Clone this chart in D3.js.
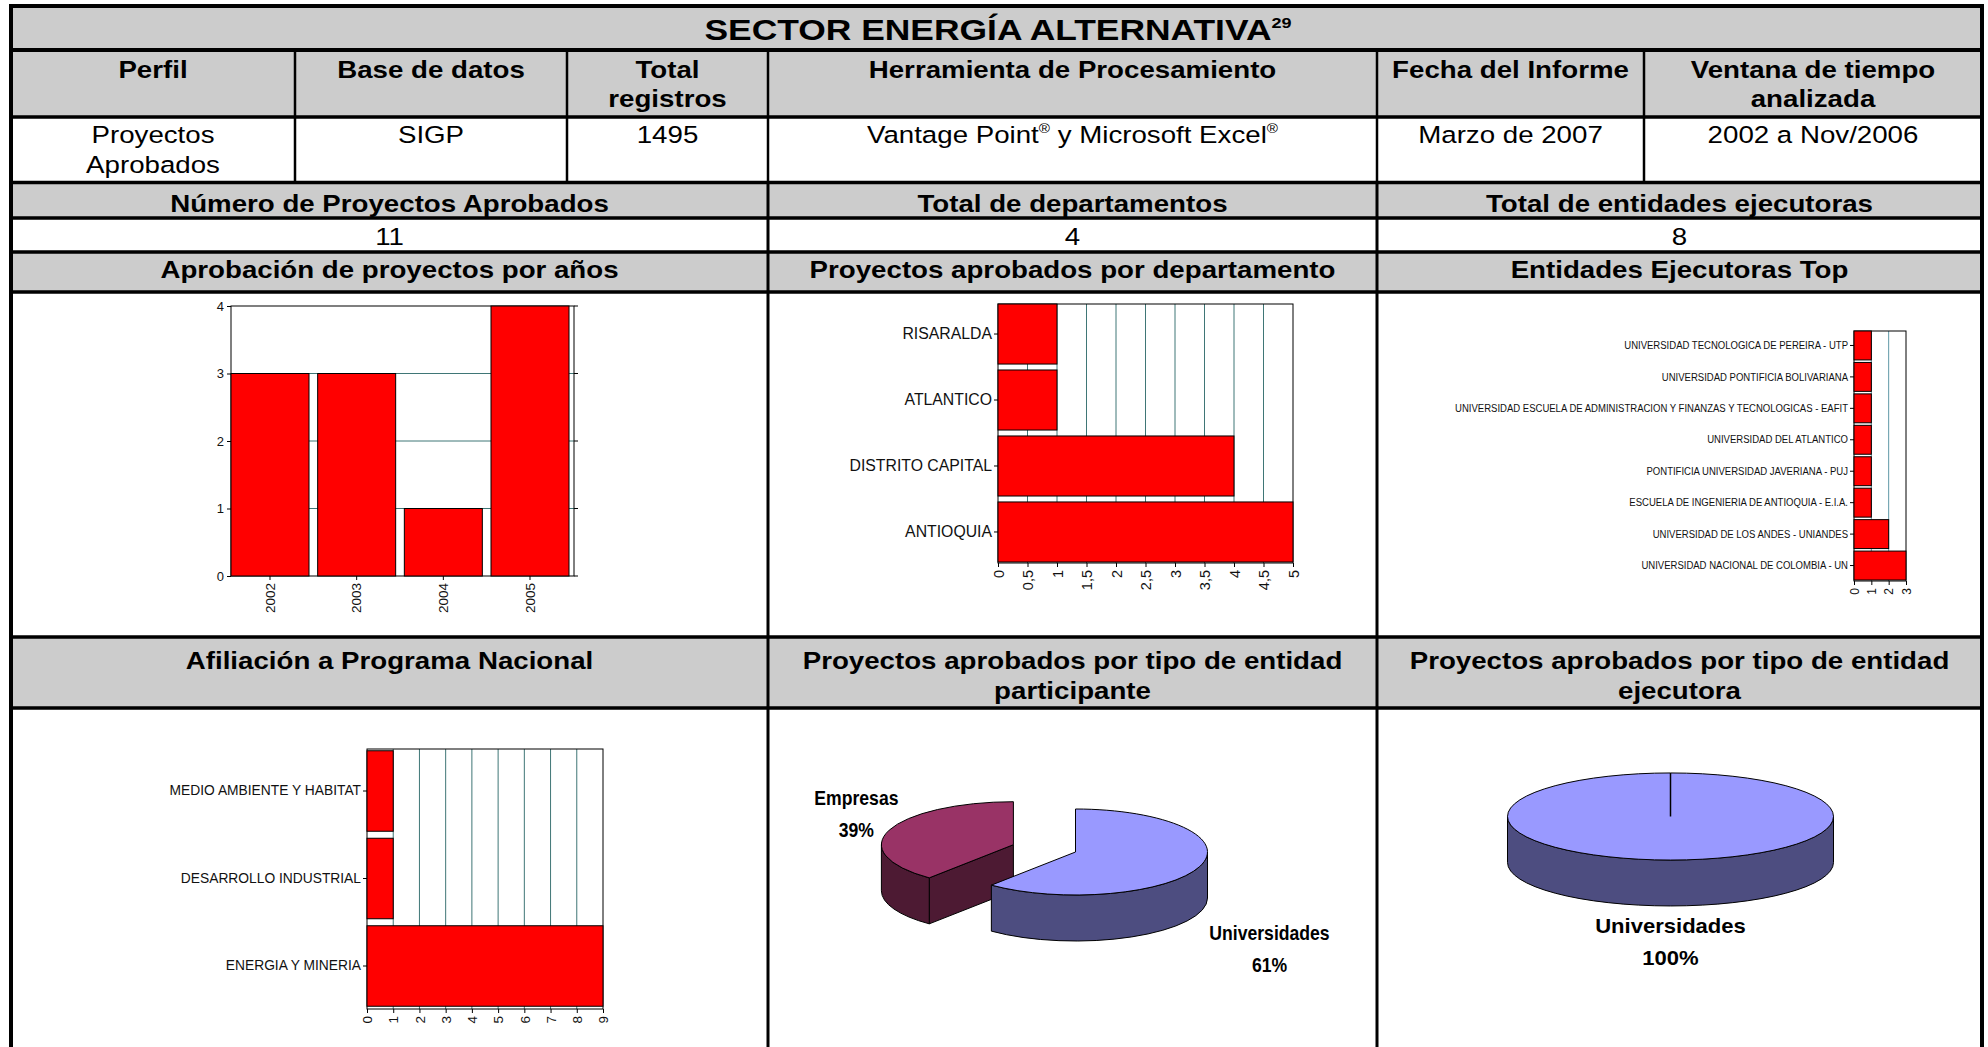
<!DOCTYPE html>
<html>
<head>
<meta charset="utf-8">
<script src="https://cdn.jsdelivr.net/npm/d3@7.9.0/dist/d3.min.js"></script>
<style>
  body { margin: 0; background: #fff; }
  svg { display: block; font-family: "Liberation Sans", Arial, sans-serif; }
</style>
</head>
<body>
<svg id="chart" width="1988" height="1047"></svg>
<script>
// ---- data ----
const titulo = 'SECTOR ENERGÍA ALTERNATIVA';
const tituloNota = '29';
const encabezados = [['Perfil'], ['Base de datos'], ['Total', 'registros'], ['Herramienta de Procesamiento'], ['Fecha del Informe'], ['Ventana de tiempo', 'analizada']];
const fila = [['Proyectos', 'Aprobados'], ['SIGP'], ['1495'], ['Vantage Point® y Microsoft Excel®'], ['Marzo de 2007'], ['2002 a Nov/2006']];
const resumenTitulos = ['Número de Proyectos Aprobados', 'Total de departamentos', 'Total de entidades ejecutoras'];
const resumenValores = ['11', '4', '8'];
const graficosTitulos1 = [['Aprobación de proyectos por años'], ['Proyectos aprobados por departamento'], ['Entidades Ejecutoras Top']];
const graficosTitulos2 = [['Afiliación a Programa Nacional'], ['Proyectos aprobados por tipo de entidad', 'participante'], ['Proyectos aprobados por tipo de entidad', 'ejecutora']];

const years = ['2002', '2003', '2004', '2005'];
const yearCounts = [3, 3, 1, 4];

const departamentos = ['RISARALDA', 'ATLANTICO', 'DISTRITO CAPITAL', 'ANTIOQUIA'];
const deptCounts = [1, 1, 4, 5];
const deptTicks = [0, 0.5, 1, 1.5, 2, 2.5, 3, 3.5, 4, 4.5, 5];

const entidades = [
  'UNIVERSIDAD TECNOLOGICA DE PEREIRA - UTP',
  'UNIVERSIDAD PONTIFICIA BOLIVARIANA',
  'UNIVERSIDAD ESCUELA DE ADMINISTRACION Y FINANZAS Y TECNOLOGICAS - EAFIT',
  'UNIVERSIDAD DEL ATLANTICO',
  'PONTIFICIA UNIVERSIDAD JAVERIANA - PUJ',
  'ESCUELA DE INGENIERIA DE ANTIOQUIA - E.I.A.',
  'UNIVERSIDAD DE LOS ANDES - UNIANDES',
  'UNIVERSIDAD NACIONAL DE COLOMBIA - UN'
];
const entidadCounts = [1, 1, 1, 1, 1, 1, 2, 3];

const programas = ['MEDIO AMBIENTE Y HABITAT', 'DESARROLLO INDUSTRIAL', 'ENERGIA Y MINERIA'];
const programaCounts = [1, 1, 9];

const participanteTipos = ['Universidades', 'Empresas'];
const participantePct = [61, 39];
const ejecutoraTipos = ['Universidades'];
const ejecutoraPct = [100];

// ---- layout ----
const svg = d3.select('#chart');
const FONT = '"Liberation Sans", Arial, sans-serif';
const GRAY = '#cccccc';
const GRID = '#3f7676';
const RED = '#ff0000';

const L = 11, R = 1982;
const cols6 = [L, 295, 567, 768, 1377, 1644, R];
const cols3 = [L, 768, 1377, R];
const rowY = [6, 50, 117, 182.5, 218, 252, 292, 637, 708];
const mid = (a, b) => (a + b) / 2;

// gray header bands
[[0, 1], [1, 2], [3, 4], [5, 6], [7, 8]].forEach(([a, b]) => {
  svg.append('rect').attr('x', L).attr('y', rowY[a]).attr('width', R - L).attr('height', rowY[b] - rowY[a]).attr('fill', GRAY);
});

function tableText(x, y, str, size, bold, sx) {
  const t = svg.append('text')
    .attr('transform', `translate(${x},${y}) scale(${sx},1)`)
    .attr('text-anchor', 'middle')
    .style('font-size', size + 'px')
    .style('font-weight', bold ? 'bold' : 'normal')
    .attr('fill', '#000');
  let raised = false;
  str.split(/(®)/).filter(p => p).forEach(p => {
    const ts = t.append('tspan').text(p);
    if (p === '®') {
      ts.attr('dy', -size * 0.4).style('font-size', (size * 0.55) + 'px');
      raised = true;
    } else if (raised) {
      ts.attr('dy', size * 0.4);
      raised = false;
    }
  });
  return t;
}

// title
const tt = tableText(998, 40, titulo, 29.5, true, 1.2);
tt.append('tspan').attr('dy', -12).style('font-size', '15px').text(tituloNota);

const TS = 24.5, SX = 1.13;
encabezados.forEach((lines, i) => {
  lines.forEach((s, k) => tableText(mid(cols6[i], cols6[i + 1]), 78 + k * 29, s, TS, true, SX));
});
fila.forEach((lines, i) => {
  lines.forEach((s, k) => tableText(mid(cols6[i], cols6[i + 1]), 143 + k * 30, s, TS, false, SX));
});
resumenTitulos.forEach((s, i) => tableText(mid(cols3[i], cols3[i + 1]), 211.5, s, TS, true, SX));
resumenValores.forEach((s, i) => tableText(mid(cols3[i], cols3[i + 1]), 245, s, TS, false, SX));
graficosTitulos1.forEach((lines, i) => tableText(mid(cols3[i], cols3[i + 1]), 278, lines[0], TS, true, SX));
graficosTitulos2.forEach((lines, i) => {
  lines.forEach((s, k) => tableText(mid(cols3[i], cols3[i + 1]), 669 + k * 30, s, TS, true, SX));
});

// ---- charts ----
function styleAxis(g, size) {
  g.attr('font-family', FONT).attr('font-size', size);
  g.selectAll('line').attr('stroke', '#000');
  g.selectAll('text').attr('fill', '#111');
}

// 1. Aprobación de proyectos por años
(function () {
  const g = svg.append('g');
  const x = d3.scaleBand().domain(years).range([231, 569]).paddingInner(0.1).paddingOuter(0);
  const y = d3.scaleLinear().domain([0, 4]).range([576, 306]);
  const x1 = 574;
  g.selectAll('.grid').data([1, 2, 3]).join('line')
    .attr('x1', 231).attr('x2', x1).attr('y1', d => y(d)).attr('y2', d => y(d))
    .attr('stroke', GRID).attr('stroke-width', 1);
  g.selectAll('.rt').data(y.ticks(4)).join('line')
    .attr('x1', x1).attr('x2', x1 + 4).attr('y1', d => y(d)).attr('y2', d => y(d))
    .attr('stroke', '#000');
  g.append('rect').attr('x', 231).attr('y', y(4)).attr('width', x1 - 231).attr('height', y(0) - y(4))
    .attr('fill', 'none').attr('stroke', '#000');
  g.selectAll('.bar').data(yearCounts).join('rect')
    .attr('x', (d, i) => x(years[i])).attr('width', x.bandwidth())
    .attr('y', d => y(d)).attr('height', d => y(0) - y(d))
    .attr('fill', RED).attr('stroke', '#000').attr('stroke-width', 1);
  const ay = g.append('g').attr('transform', 'translate(231,0)')
    .call(d3.axisLeft(y).ticks(4).tickSize(4).tickFormat(d3.format('d')));
  ay.select('.domain').remove();
  styleAxis(ay, 13);
  const ax = g.append('g').attr('transform', `translate(0,${y(0)})`)
    .call(d3.axisBottom(x).tickSize(4));
  ax.select('.domain').remove();
  styleAxis(ax, 13.5);
  ax.selectAll('text').attr('transform', 'rotate(-90)').attr('text-anchor', 'end')
    .attr('x', -7).attr('y', 0).attr('dy', '0.35em');
})();

function hbar(cats, vals, xMax, ticks, xr, yr, opts) {
  const g = svg.append('g');
  const x = d3.scaleLinear().domain([0, xMax]).range(xr);
  const y = d3.scaleBand().domain(cats).range([yr[0], yr[1] - 1]).paddingInner(opts.pad).paddingOuter(opts.padOuter || 0);
  g.selectAll('.grid').data(ticks.filter(t => t > 0 && t < xMax)).join('line')
    .attr('x1', d => x(d)).attr('x2', d => x(d)).attr('y1', yr[0]).attr('y2', yr[1])
    .attr('stroke', opts.grid).attr('stroke-width', 1);
  g.append('rect').attr('x', xr[0]).attr('y', yr[0]).attr('width', xr[1] - xr[0]).attr('height', yr[1] - yr[0])
    .attr('fill', 'none').attr('stroke', '#000');
  g.selectAll('.bar').data(vals).join('rect')
    .attr('x', x(0)).attr('width', d => x(d) - x(0))
    .attr('y', (d, i) => y(cats[i])).attr('height', y.bandwidth())
    .attr('fill', RED).attr('stroke', '#000').attr('stroke-width', 1);
  const ay = g.append('g').attr('transform', `translate(${xr[0]},0)`)
    .call(d3.axisLeft(y).tickSize(4).tickPadding(2));
  ay.select('.domain').remove();
  styleAxis(ay, opts.labelSize);
  if (opts.labelSx !== 1) {
    ay.selectAll('text').attr('transform', `scale(${opts.labelSx},1)`).attr('x', -6 / opts.labelSx);
  }
  const ax = g.append('g').attr('transform', `translate(0,${yr[1]})`)
    .call(d3.axisBottom(x).tickValues(ticks).tickSize(4).tickFormat(d => String(d).replace('.', ',')));
  ax.select('.domain').remove();
  styleAxis(ax, opts.tickSize);
  ax.selectAll('text').attr('transform', 'rotate(-90)').attr('text-anchor', 'end')
    .attr('x', -7).attr('y', 0).attr('dy', '0.35em');
}

// 2. Proyectos aprobados por departamento
hbar(departamentos, deptCounts, 5, deptTicks, [998, 1293], [304, 563],
  { pad: 0.09, grid: GRID, labelSize: 15.8, labelSx: 1, tickSize: 14.5 });

// 3. Entidades Ejecutoras Top
hbar(entidades, entidadCounts, 3, [0, 1, 2, 3], [1854, 1906], [331, 581],
  { pad: 0.08, grid: '#5f98a6', labelSize: 11.5, labelSx: 0.83, tickSize: 12 });

// 4. Afiliación a Programa Nacional
hbar(programas, programaCounts, 9, d3.range(0, 10), [367, 603], [749, 1009],
  { pad: 0.08, padOuter: 0.02, grid: GRID, labelSize: 13.8, labelSx: 1, tickSize: 13.5 });

// ---- 3D pies ----
function pie3d(tipos, pct, o) {
  const g = svg.append('g');
  const arcs = d3.pie().sort(null).value(d => d)(pct);
  const slices = arcs.map((a, i) => {
    const m = (a.startAngle + a.endAngle) / 2;
    const e = arcs.length > 1 ? (o.explode[i] || 0) : 0;
    return { a, i, cx: o.cx + e * Math.sin(m), cy: o.cy - e * Math.cos(m) * o.ry / o.rx };
  });
  const pt = (s, ang) => [s.cx + o.rx * Math.sin(ang), s.cy - o.ry * Math.cos(ang)];
  const D = o.depth, rx = o.rx, ry = o.ry;
  slices.slice().sort((p, q) => p.cy - q.cy).forEach(s => {
    const a0 = s.a.startAngle, a1 = s.a.endAngle;
    const full = a1 - a0 > 2 * Math.PI - 1e-6;
    const top = o.colors[s.i], side = o.sides[s.i];
    const wall = ang => {
      const p = pt(s, ang);
      g.append('path')
        .attr('d', `M${s.cx},${s.cy}L${p[0]},${p[1]}L${p[0]},${p[1] + D}L${s.cx},${s.cy + D}Z`)
        .attr('fill', side).attr('stroke', '#000').attr('stroke-width', 1);
    };
    if (!full && Math.sin(a0) < -1e-6) wall(a0);
    if (!full && Math.sin(a1) > 1e-6) wall(a1);
    const s0 = Math.max(a0, Math.PI / 2), s1 = Math.min(a1, 3 * Math.PI / 2);
    if (s1 > s0) {
      const P0 = pt(s, s0), P1 = pt(s, s1);
      g.append('path')
        .attr('d', `M${P0[0]},${P0[1]}A${rx},${ry} 0 0 1 ${P1[0]},${P1[1]}L${P1[0]},${P1[1] + D}A${rx},${ry} 0 0 0 ${P0[0]},${P0[1] + D}Z`)
        .attr('fill', side).attr('stroke', '#000').attr('stroke-width', 1);
    }
    if (full) {
      g.append('path')
        .attr('d', `M${s.cx - rx},${s.cy}A${rx},${ry} 0 1 1 ${s.cx + rx},${s.cy}A${rx},${ry} 0 1 1 ${s.cx - rx},${s.cy}Z`)
        .attr('fill', top).attr('stroke', '#000').attr('stroke-width', 1);
      const p = pt(s, a0);
      g.append('line').attr('x1', s.cx).attr('y1', s.cy).attr('x2', p[0]).attr('y2', p[1])
        .attr('stroke', '#000').attr('stroke-width', 1.5);
    } else {
      const P0 = pt(s, a0), P1 = pt(s, a1);
      g.append('path')
        .attr('d', `M${s.cx},${s.cy}L${P0[0]},${P0[1]}A${rx},${ry} 0 ${a1 - a0 > Math.PI ? 1 : 0} 1 ${P1[0]},${P1[1]}Z`)
        .attr('fill', top).attr('stroke', '#000').attr('stroke-width', 1);
    }
  });
  slices.forEach(s => {
    const [dx, dy] = o.labelOff[s.i];
    [tipos[s.i], pct[s.i] + '%'].forEach((txt, k) => {
      g.append('text')
        .attr('transform', `translate(${s.cx + dx},${s.cy + dy + k * 31.5}) scale(${o.labelSx},1)`)
        .attr('text-anchor', 'middle')
        .style('font-size', o.labelSize + 'px').style('font-weight', 'bold')
        .attr('fill', '#000').text(txt);
    });
  });
}

pie3d(participanteTipos, participantePct, {
  cx: 1075.5, cy: 852, rx: 132, ry: 43, depth: 46, explode: [0, 66],
  colors: ['#9999ff', '#993366'], sides: ['#4d4d80', '#4d1a33'],
  labelOff: [[194, 88], [-157, -39.5]], labelSize: 20, labelSx: 0.88
});

pie3d(ejecutoraTipos, ejecutoraPct, {
  cx: 1670.5, cy: 816.5, rx: 163, ry: 43.5, depth: 46, explode: [0],
  colors: ['#9999ff'], sides: ['#4d4d80'],
  labelOff: [[0, 116.5]], labelSize: 21, labelSx: 1.05
});

// ---- table rules ----
const line = (x1, y1, x2, y2, w) => svg.append('line')
  .attr('x1', x1).attr('y1', y1).attr('x2', x2).attr('y2', y2)
  .attr('stroke', '#000').attr('stroke-width', w);
rowY.forEach((y, i) => line(L, y, R, y, i < 2 ? 4 : 3.5));
cols6.slice(1, -1).forEach(x => line(x, rowY[1], x, rowY[3], 2.5));
cols3.slice(1, -1).forEach(x => line(x, rowY[3], x, 1047, 3));
line(L, rowY[0] - 2, L, 1047, 4);
line(R, rowY[0] - 2, R, 1047, 4);
</script>
</body>
</html>
